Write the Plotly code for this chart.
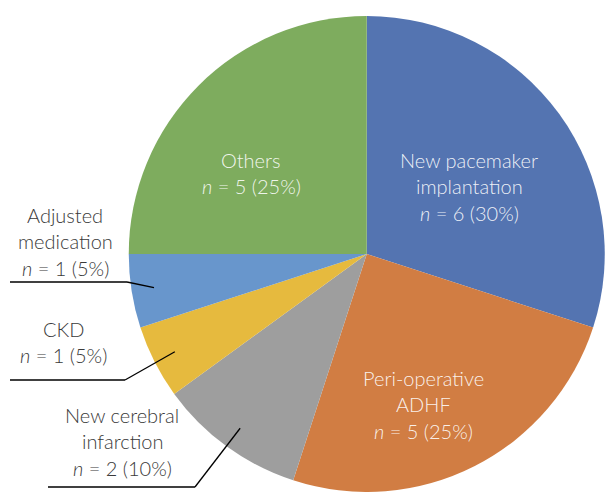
import math
import plotly.graph_objects as go

categories = ["New pacemaker implantation", "Peri-operative ADHF", "New cerebral infarction",
              "CKD", "Adjusted medication", "Others"]
counts = [6, 5, 2, 1, 1, 5]
percents = [30, 25, 10, 5, 5, 25]
label_lines = [["New pacemaker", "implantation"], ["Peri-operative", "ADHF"],
               ["New cerebral", "infarction"], ["CKD"], ["Adjusted", "medication"], ["Others"]]
colors = ["#5474B1", "#D17D43", "#9E9E9E", "#E6BA3E", "#6896CC", "#7EAC5E"]

W, H = 605, 492
# pie geometry (pixels)
x0, x1 = 128.5, 605.0
ytop, ybot = 16.0, 492.0
R = min(x1 - x0, ybot - ytop) / 2
cx, cy = (x0 + x1) / 2, (ytop + ybot) / 2

def px(x):
    return x / W

def py(y):
    return 1 - y / H

fig = go.Figure(go.Pie(
    labels=categories, values=counts, sort=False, direction="clockwise", rotation=0,
    marker=dict(colors=colors, line=dict(width=0)),
    textinfo="none", hoverinfo="label+value+percent",
    domain=dict(x=[px(x0), px(x1)], y=[py(ybot), py(ytop)]),
    showlegend=False,
))

def lines_for(i):
    return list(label_lines[i]) + [f"<i>n</i> = {counts[i]} ({percents[i]}%)"]

# label block centers (pixels): center x, center y, inside?
label_pos = {
    0: (469, 186, True),
    1: (423, 404, True),
    2: (122, 441, False),
    3: (63, 342, False),
    4: (65, 241, False),
    5: (251, 173, True),
}
LINE_H = 26.5
# leader elbows / horizontal ends for outside labels (pixels)
leaders = {
    4: ((127, 282), 10),
    3: ((125, 380), 10),
    2: ((195, 487), 48),
}

total = sum(counts)
cum = 0
annotations = []
shapes = []
for i, v in enumerate(counts):
    mid = 2 * math.pi * (cum + v / 2) / total
    cum += v
    lx, ly, inside = label_pos[i]
    lines = lines_for(i)
    n = len(lines)
    for k, t in enumerate(lines):
        yk = ly + (k - (n - 1) / 2) * LINE_H
        annotations.append(dict(
            x=px(lx), y=py(yk), xref="paper", yref="paper", showarrow=False,
            text=t, align="center", xanchor="center", yanchor="middle",
            font=dict(family="Lato", size=20, weight=300,
                      color="rgba(255,255,255,0.9)" if inside else "#3A3A3A"),
        ))
    if i in leaders:
        r = 0.905 * R
        ax = cx + r * math.sin(mid)
        ay = cy - r * math.cos(mid)
        (ex, ey), hx = leaders[i]
        shapes.append(dict(type="line", xref="paper", yref="paper",
                           x0=px(ax), y0=py(ay), x1=px(ex), y1=py(ey),
                           line=dict(color="#000000", width=1.3)))
        shapes.append(dict(type="line", xref="paper", yref="paper",
                           x0=px(ex), y0=py(ey), x1=px(hx), y1=py(ey),
                           line=dict(color="#000000", width=1.3)))

fig.update_layout(
    width=W, height=H, margin=dict(l=0, r=0, t=0, b=0),
    paper_bgcolor="white", plot_bgcolor="white",
    annotations=annotations, shapes=shapes,
)
fig.write_html("out.html", config={"displayModeBar": False},
               post_script="document.body.style.margin='0';document.body.style.overflow='hidden';")
